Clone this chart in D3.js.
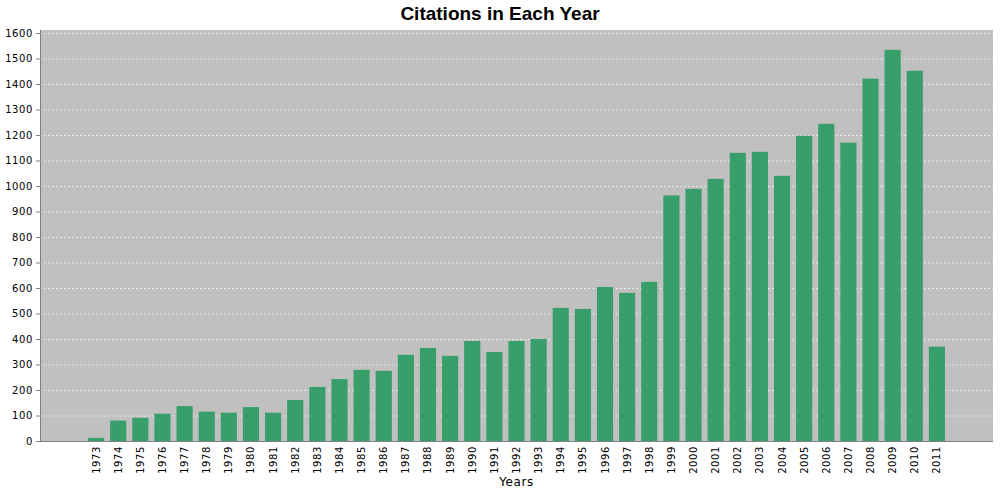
<!DOCTYPE html>
<html>
<head>
<meta charset="utf-8">
<script src="https://cdn.jsdelivr.net/npm/d3@7"></script>
<style>
  body { margin: 0; background: #fff; }
  svg { display: block; }
  .tick text { font-family: "DejaVu Sans", sans-serif; font-size: 10px; fill: #000; letter-spacing: 0.6px; }
</style>
</head>
<body>
<div id="chart"></div>
<script>
const years = ['1973', '1974', '1975', '1976', '1977', '1978', '1979', '1980', '1981', '1982',
  '1983', '1984', '1985', '1986', '1987', '1988', '1989', '1990', '1991', '1992',
  '1993', '1994', '1995', '1996', '1997', '1998', '1999', '2000', '2001', '2002',
  '2003', '2004', '2005', '2006', '2007', '2008', '2009', '2010', '2011'];
const citations = [12, 80, 91, 107, 137, 115, 111, 133, 111, 161,
  212, 243, 279, 275, 338, 365, 334, 392, 349, 392,
  400, 522, 518, 604, 581, 624, 963, 989, 1028, 1130,
  1134, 1040, 1197, 1244, 1170, 1421, 1534, 1452, 370];
const yTicks = d3.range(0, 1601, 100);

const width = 1000, height = 500;
const margin = { top: 30, right: 7, bottom: 59, left: 40 };
const plotW = width - margin.left - margin.right;
const plotH = height - margin.top - margin.bottom;

const svg = d3.select('#chart').append('svg')
  .attr('width', width)
  .attr('height', height);

svg.append('text')
  .attr('x', width / 2)
  .attr('y', 20)
  .attr('text-anchor', 'middle')
  .style('font-family', '"Liberation Sans", Arial, sans-serif')
  .style('font-weight', 'bold')
  .style('font-size', '19px')
  .text('Citations in Each Year');

const g = svg.append('g')
  .attr('transform', `translate(${margin.left},${margin.top})`);

const x = d3.scaleBand()
  .domain(years)
  .range([0, plotW])
  .paddingInner(0.27)
  .paddingOuter(2.17);

const y = d3.scaleLinear()
  .domain([0, 1600])
  .range([plotH, plotH - 408]);

g.append('rect')
  .attr('width', plotW)
  .attr('height', plotH)
  .attr('fill', '#c0c0c0');

// dashed horizontal grid
g.append('g')
  .selectAll('line')
  .data(yTicks.slice(1))
  .enter()
  .append('line')
  .attr('x1', 0)
  .attr('x2', plotW)
  .attr('y1', d => y(d) + 0.5)
  .attr('y2', d => y(d) + 0.5)
  .attr('stroke', '#f2f2f2')
  .attr('stroke-width', 0.8)
  .attr('stroke-dasharray', '2,2');

g.selectAll('.bar')
  .data(years)
  .enter()
  .append('rect')
  .attr('class', 'bar')
  .attr('x', d => x(d))
  .attr('width', x.bandwidth())
  .attr('y', (d, i) => y(citations[i]))
  .attr('height', (d, i) => plotH - y(citations[i]))
  .attr('fill', '#389e6a');

// axis lines
g.append('line')
  .attr('x1', 0.5).attr('x2', 0.5)
  .attr('y1', 0).attr('y2', plotH)
  .attr('stroke', '#808080');
g.append('line')
  .attr('x1', 0).attr('x2', plotW)
  .attr('y1', plotH + 0.5).attr('y2', plotH + 0.5)
  .attr('stroke', '#808080');

const yAxis = g.append('g')
  .call(d3.axisLeft(y).tickValues(yTicks).tickSize(4).tickPadding(3).tickFormat(d3.format('d')));
yAxis.select('.domain').remove();
yAxis.selectAll('.tick line').attr('stroke', '#808080');

const xAxis = g.append('g')
  .attr('transform', `translate(0,${plotH})`)
  .call(d3.axisBottom(x).tickSize(0));
xAxis.select('.domain').remove();
xAxis.selectAll('.tick text')
  .attr('transform', 'rotate(-90)')
  .attr('text-anchor', 'end')
  .attr('x', -5)
  .attr('y', 0)
  .attr('dy', '0.35em');

svg.append('text')
  .attr('x', margin.left + plotW / 2)
  .attr('y', 486)
  .attr('text-anchor', 'middle')
  .style('font-family', '"DejaVu Sans", sans-serif')
  .style('font-size', '12px')
  .style('letter-spacing', '0.6px')
  .text('Years');
</script>
</body>
</html>
